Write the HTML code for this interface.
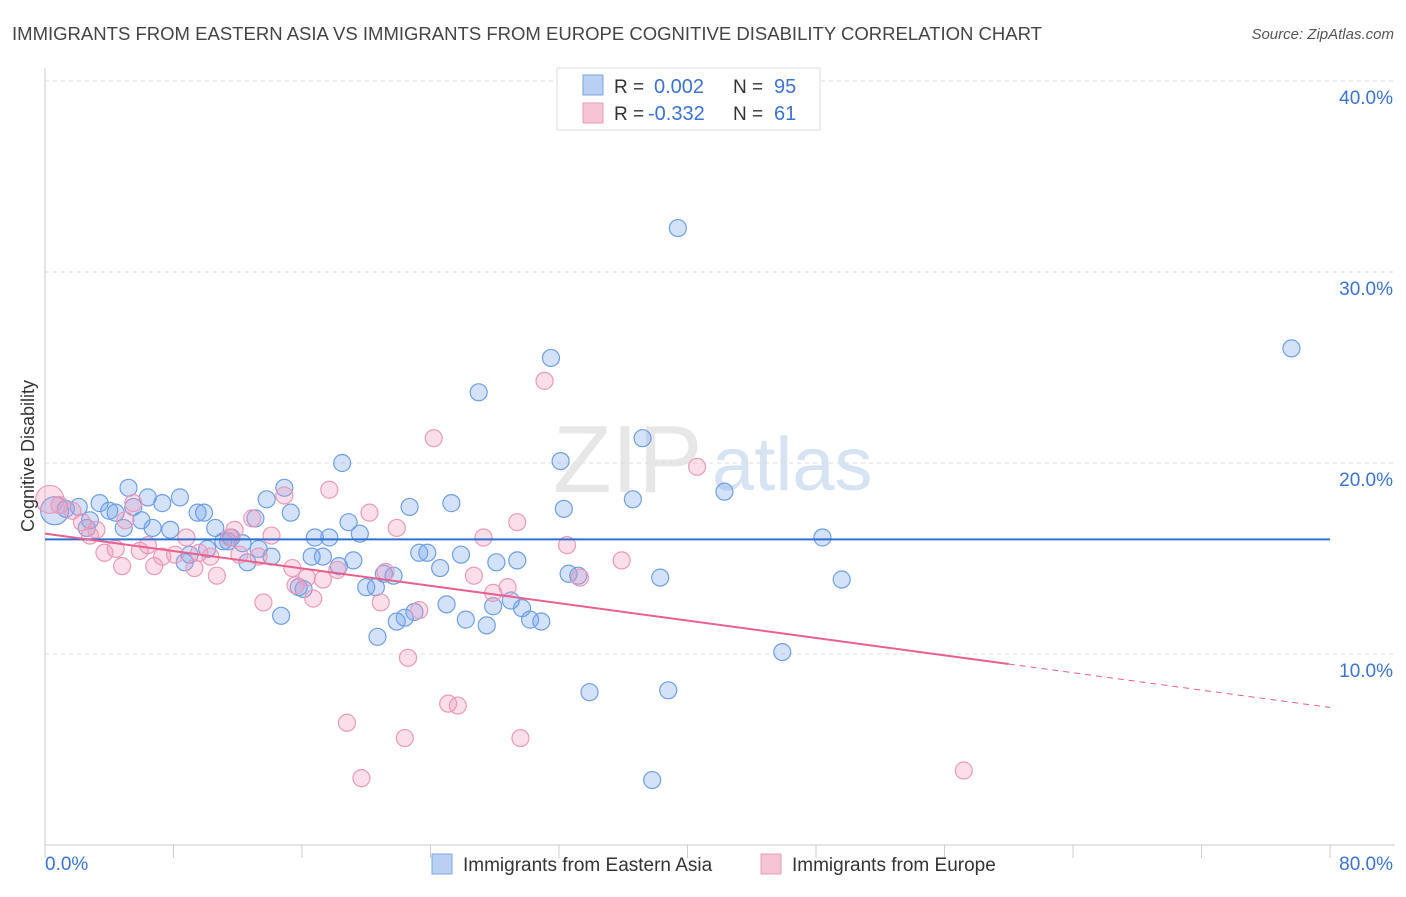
<!DOCTYPE html>
<html><head><meta charset="utf-8"><style>
body{margin:0;background:#fff;font-family:"Liberation Sans",sans-serif;}
svg text{font-family:"Liberation Sans",sans-serif;}
</style></head><body>
<svg id="chart" width="1406" height="892" xmlns="http://www.w3.org/2000/svg">
<text x="12" y="40" font-size="18" fill="#444" textLength="1030" lengthAdjust="spacingAndGlyphs">IMMIGRANTS FROM EASTERN ASIA VS IMMIGRANTS FROM EUROPE COGNITIVE DISABILITY CORRELATION CHART</text>
<text x="1394" y="39" font-size="15" fill="#555" text-anchor="end" font-style="italic">Source: ZipAtlas.com</text>
<g>
<text x="553" y="492" font-size="96" fill="#ddd" font-family="Liberation Serif" opacity="0.7">ZIP</text>
<text x="712" y="490" font-size="76" fill="#c6d8ee" opacity="0.7">atlas</text>
</g>
<g id="grid"></g>
<g id="axes"></g>
<g id="marks"></g>
<text transform="translate(34,456) rotate(-90)" font-size="18" fill="#333" text-anchor="middle">Cognitive Disability</text>
<g>
<rect x="557" y="68" width="263" height="62" fill="#fff" stroke="#ddd"/>
<rect x="583" y="75" width="20" height="20" fill="#b9d0f2" stroke="#7aa3e2"/>
<rect x="583" y="103" width="20" height="20" fill="#f6c5d5" stroke="#e99ab6"/>
<text x="614" y="93" font-size="19" fill="#333">R =</text>
<text x="654" y="93" font-size="20" fill="#3b73d1">0.002</text>
<text x="733" y="93" font-size="19" fill="#333">N =</text>
<text x="774" y="93" font-size="20" fill="#3b73d1">95</text>
<text x="614" y="120" font-size="19" fill="#333">R =</text>
<text x="648" y="120" font-size="20" fill="#3b73d1">-0.332</text>
<text x="733" y="120" font-size="19" fill="#333">N =</text>
<text x="774" y="120" font-size="20" fill="#3b73d1">61</text>
</g>
<g>
<rect x="432" y="854" width="20" height="20" fill="#b9d0f2" stroke="#7aa3e2"/>
<text x="463" y="871" font-size="19" fill="#333">Immigrants from Eastern Asia</text>
<rect x="761" y="854" width="20" height="20" fill="#f6c5d5" stroke="#e99ab6"/>
<text x="792" y="871" font-size="19" fill="#333">Immigrants from Europe</text>
</g>
</svg>
<script>
const yTicks=[10,20,30,40];
const xTickLabels=["0.0%","80.0%"];
const blueX=[39.4,77.6,31.5,27.0,37.2,32.1,18.5,42.3,36.6,32.3,25.3,22.7,14.9,13.8,15.3,5.2,6.4,8.4,7.3,3.4,5.5,4.0,9.5,9.9,4.4,2.1,1.3,0.6,2.8,6.0,4.9,6.7,7.8,2.6,10.6,13.1,18.9,19.6,16.8,17.7,11.6,11.4,10.1,11.1,12.3,13.3,14.1,12.6,9.0,8.7,16.6,17.3,19.2,18.3,23.3,23.8,25.9,28.1,29.4,24.6,32.6,33.2,21.1,21.7,38.3,48.4,49.6,20.0,20.6,15.8,16.1,25.0,27.9,29.0,29.7,30.2,30.9,23.0,22.4,21.9,26.2,27.5,14.7,20.7,45.9,33.9,38.8,37.8];
const blueY=[32.3,26.0,25.5,23.7,21.3,20.1,20.0,18.5,18.1,17.6,17.9,17.7,18.7,18.1,17.4,18.7,18.2,18.2,17.9,17.9,17.7,17.5,17.4,17.4,17.4,17.7,17.6,17.5,17.0,17.0,16.6,16.6,16.5,16.6,16.6,17.1,16.9,16.3,16.1,16.1,16.1,15.9,15.5,15.9,15.8,15.5,15.1,14.8,15.2,14.8,15.1,15.1,14.9,14.6,15.3,15.3,15.2,14.8,14.9,14.5,14.2,14.1,14.2,14.1,14.0,16.1,13.9,13.5,13.5,13.5,13.4,12.6,12.5,12.8,12.4,11.8,11.7,12.2,11.9,11.7,11.8,11.5,12.0,10.9,10.1,8.0,8.1,3.4];
const pinkX=[31.1,24.2,40.6,17.7,14.9,20.2,0.3,0.9,1.7,2.3,3.2,2.8,5.5,5.0,12.9,11.8,21.9,29.4,27.3,32.5,35.9,33.3,26.7,8.8,14.1,11.5,4.4,3.7,5.9,6.4,7.3,8.1,9.6,10.3,12.1,13.3,4.8,6.8,9.3,10.7,15.4,16.3,17.3,18.2,21.2,15.6,28.8,27.9,13.6,16.7,20.9,23.3,22.6,18.8,25.1,25.7,22.4,29.6,19.7,57.2];
const pinkY=[24.3,21.3,19.8,18.6,18.3,17.4,18.1,17.8,17.5,16.9,16.5,16.2,17.9,17.0,17.1,16.5,16.6,16.9,16.1,15.7,14.9,14.0,14.1,16.1,16.2,16.1,15.5,15.3,15.4,15.7,15.1,15.2,15.3,15.1,15.2,15.1,14.6,14.6,14.5,14.1,14.5,14.0,13.9,14.4,14.3,13.6,13.5,13.2,12.7,12.9,12.7,12.3,9.8,6.4,7.4,7.3,5.6,5.6,3.5,3.9];
const blueTrend=[16.0,16.0];
const pinkTrend=[16.3,7.2];
const NS="http://www.w3.org/2000/svg";
const X=v=>45+v*(1285/80);
const Y=v=>845-v*19.1;
function mk(tag,attrs,parent){const e=document.createElementNS(NS,tag);for(const k in attrs)e.setAttribute(k,attrs[k]);parent.appendChild(e);return e;}
const grid=document.getElementById('grid'),axes=document.getElementById('axes'),marks=document.getElementById('marks');
yTicks.forEach(t=>{
 const l=mk('line',{x1:45,x2:1395,y1:Y(t),y2:Y(t),stroke:'#ddd','stroke-dasharray':'4,4'},grid);
 
 
 const tx=mk('text',{x:1393,y:Y(t)+23,'font-size':19,fill:'#3b73d1','text-anchor':'end'},axes);
 tx.textContent=t.toFixed(1)+'%';
 
 
});
const ax=mk('line',{x1:45,x2:1395,y1:845,y2:845,stroke:'#ccc'},axes);


const ay=mk('line',{x1:45,x2:45,y1:68,y2:845,stroke:'#ccc'},axes);


for(let i=0;i<=10;i++){
 const t=mk('line',{x1:X(i*8),x2:X(i*8),y1:845,y2:858,stroke:'#ccc'},axes);
 
 
}
const xl0=mk('text',{x:45,y:870,'font-size':19,fill:'#3b73d1'},axes);xl0.textContent=xTickLabels[0];


const xl1=mk('text',{x:1393,y:870,'font-size':19,fill:'#3b73d1','text-anchor':'end'},axes);xl1.textContent=xTickLabels[1];


blueX.forEach((v,i)=>{
 const c=mk('circle',{cx:X(v),cy:Y(blueY[i]),r:i==27?14:8.5,fill:'rgba(110,160,235,0.3)',stroke:'#6f9fe3','stroke-width':1.2},marks);
 
 
});
pinkX.forEach((v,i)=>{
 const c=mk('circle',{cx:X(v),cy:Y(pinkY[i]),r:i==6?14:8.5,fill:'rgba(240,150,185,0.3)',stroke:'#eb9ab8','stroke-width':1.2},marks);
 
 
});
const bt=mk('line',{x1:X(0),x2:X(80),y1:Y(blueTrend[0]),y2:Y(blueTrend[1]),stroke:'#2f6fd0','stroke-width':2},marks);


const py=x=>pinkTrend[0]+(pinkTrend[1]-pinkTrend[0])*x/80;
const pt=mk('line',{x1:X(0),x2:X(60),y1:Y(py(0)),y2:Y(py(60)),stroke:'#e8608e','stroke-width':2},marks);


const pd=mk('line',{x1:X(60),x2:X(80),y1:Y(py(60)),y2:Y(py(80)),stroke:'#e8608e','stroke-width':1,'stroke-dasharray':'6,5'},marks);


</script>
</body></html>
